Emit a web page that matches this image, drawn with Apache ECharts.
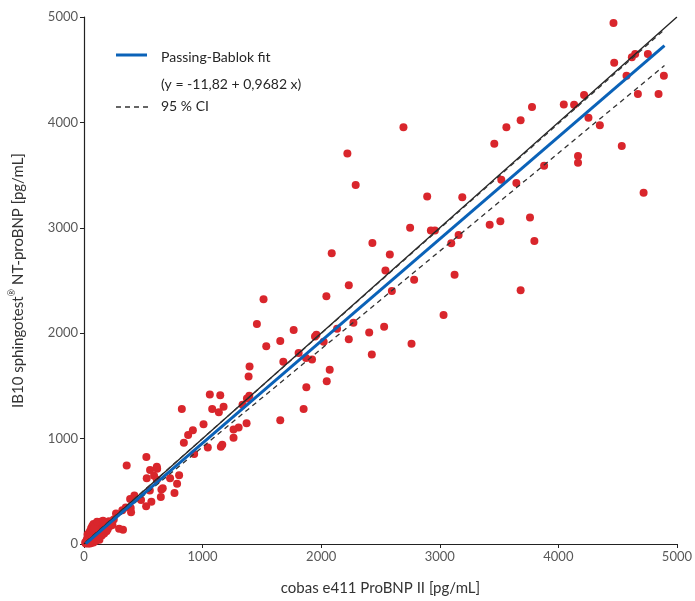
<!DOCTYPE html>
<html>
<head>
<meta charset="utf-8">
<script src="https://cdn.jsdelivr.net/npm/echarts@6/dist/echarts.min.js"></script>
<style>html,body{margin:0;padding:0;background:#fff}#c{width:695px;height:601px}</style>
</head>
<body>
<div id="c"></div>
<script>
// Axis ticks
const xTicks = [0, 1000, 2000, 3000, 4000, 5000];
const yTicks = [0, 1000, 2000, 3000, 4000, 5000];

// Measured points [cobas e411, sphingotest] in pg/mL
const highPoints = [[4465,4944],[4471,4567],[4620,4617],[4648,4649],[4755,4649],[4575,4442],[4890,4442],[4671,4269],[4845,4269],[4217,4259],[4046,4171],[4133,4168],[3778,4146],[3682,4021],[3562,3955],[4254,4043],[4350,3974],[3460,3798],[4535,3776],[4166,3682],[4166,3616],[3880,3588],[3519,3456],[3646,3425],[4719,3333],[3761,3098],[3798,2875],[3682,2408]];
const midPoints = [[2694,3955],[2221,3704],[2291,3406],[2894,3296],[3190,3290],[2750,3001],[2925,2975],[2959,2975],[3421,3029],[3511,3063],[3159,2932],[3097,2853],[2432,2856],[2089,2759],[2579,2746],[2542,2596],[2784,2508],[3125,2555],[2233,2455],[2596,2401],[2044,2351],[3032,2172],[1768,2031],[1655,1927],[1948,1968],[1960,1985],[2134,2043],[2272,2100],[2021,1918],[2233,1943],[2405,2006],[2531,2062],[2762,1899],[2427,1798],[1810,1811],[1514,2323],[1458,2088],[1537,1877],[1872,1764],[1923,1751],[1681,1730],[2072,1654],[1396,1683],[1388,1589],[2047,1544],[1875,1488],[1852,1281],[1655,1174]];
const lowPoints = [[1061,1419],[1149,1412],[1081,1281],[1177,1302],[1137,1249],[825,1281],[1394,1406],[1374,1381],[1337,1321],[1008,1136],[918,1080],[878,1033],[842,960],[1304,1105],[1261,1086],[1371,1146],[1261,1008],[1044,916],[1166,942],[1154,923],[929,854],[614,734],[526,826],[360,744],[557,703],[617,713],[529,624],[591,647],[614,609],[726,624],[802,653],[785,571],[664,530],[653,518],[763,483],[555,508],[481,417],[568,402],[648,445],[524,358],[425,459],[389,427],[394,342],[397,301],[352,346],[323,320],[270,289],[251,233],[329,135],[296,144]];
const clusterPoints = [[20,10],[30,25],[40,15],[45,40],[55,30],[60,55],[70,45],[75,70],[80,60],[90,85],[95,75],[100,100],[105,90],[110,120],[115,105],[120,135],[130,115],[135,150],[140,130],[150,165],[155,145],[160,180],[170,160],[175,195],[180,175],[190,205],[200,190],[210,215],[220,200],[230,210],[30,60],[50,80],[70,100],[90,130],[110,160],[130,180],[150,200],[170,210],[60,10],[80,30],[100,55],[120,80],[140,100],[160,120],[180,140],[200,160],[15,5],[35,5],[25,40],[45,20],[65,25],[85,45],[105,65],[125,95],[145,110],[165,140],[185,155],[210,175],[230,190],[60,150],[80,190],[100,180],[70,170],[120,200],[50,120],[40,100],[30,90],[90,160],[140,210],[110,210],[160,220],[120,60],[150,80],[170,100],[190,120],[200,140],[220,170],[240,180],[130,40],[100,30],[80,15],[50,5],[40,60],[20,30],[10,15]];

// Passing-Bablok fit and 95 % CI (intercept, slope) and drawn x-range
const fitCoef = [-11.82, 0.9682];
const ciUpperCoef = [5, 0.996];
const ciLowerCoef = [-8, 0.929];
const lineXRange = [15, 4895];
const identityLine = [[0,0],[5000,5000]];

const lineOf = (c) => lineXRange.map(x => [x, c[0] + c[1] * x]);

const chart = echarts.init(document.getElementById('c'), null, {renderer: 'canvas'});
const font = 'Lato, "Open Sans", sans-serif';
const allPoints = highPoints.concat(midPoints, lowPoints, clusterPoints);

chart.setOption({
  backgroundColor: '#fff',
  animation: false,
  grid: {left: 84, right: 16, top: 17, bottom: 53},
  xAxis: {
    type: 'value', min: 0, max: 5000, interval: 1000,
    name: 'cobas e411 ProBNP II [pg/mL]', nameLocation: 'middle', nameGap: 37,
    nameTextStyle: {fontFamily: font, fontSize: 15, color: '#333'},
    axisLine: {show: true, onZero: false, lineStyle: {color: '#222', width: 1.2}},
    axisTick: {show: true, inside: false, length: 4, lineStyle: {color: '#222'}},
    axisLabel: {fontFamily: font, fontSize: 13, color: '#595959', margin: 6, formatter: v => xTicks.includes(v) ? String(v) : ''},
    splitLine: {show: false}
  },
  yAxis: {
    type: 'value', min: 0, max: 5000, interval: 1000,
    name: '{n|IB10 sphingotest}{s|\u00AE}{n| NT-proBNP [pg/mL]}', nameLocation: 'middle', nameGap: 58, nameRotate: 90,
    nameTextStyle: {fontFamily: font, fontSize: 15, color: '#333',
      rich: {
        n: {fontFamily: font, fontSize: 15, color: '#333', lineHeight: 18, verticalAlign: 'bottom'},
        s: {fontFamily: font, fontSize: 9, color: '#333', lineHeight: 18, verticalAlign: 'top', padding: [0, 0, 0, 0]}
      }},
    axisLine: {show: true, onZero: false, lineStyle: {color: '#222', width: 1.2}},
    axisTick: {show: true, inside: false, length: 4, lineStyle: {color: '#222'}},
    axisLabel: {fontFamily: font, fontSize: 13, color: '#595959', margin: 6, formatter: v => yTicks.includes(v) ? String(v) : ''},
    splitLine: {show: false}
  },
  series: [
    {type: 'scatter', data: allPoints, symbol: 'circle', symbolSize: 8, itemStyle: {color: '#d9262c', opacity: 1}, z: 2},
    {type: 'line', data: identityLine, showSymbol: false, lineStyle: {color: '#222', width: 1.3}, z: 3},
    {type: 'line', data: lineOf(ciUpperCoef), showSymbol: false, lineStyle: {color: '#333', width: 1.3, type: [5, 4]}, z: 4},
    {type: 'line', data: lineOf(ciLowerCoef), showSymbol: false, lineStyle: {color: '#333', width: 1.3, type: [5, 4]}, z: 4},
    {type: 'line', data: lineOf(fitCoef), showSymbol: false, lineStyle: {color: '#0a62b8', width: 3}, z: 5}
  ],
  graphic: [
    {type: 'line', shape: {x1: 116, y1: 55, x2: 147, y2: 55}, style: {stroke: '#0a62b8', lineWidth: 3}},
    {type: 'text', left: 161, top: 50, style: {text: 'Passing-Bablok fit', font: '14px ' + font, fill: '#262626'}},
    {type: 'text', left: 161, top: 77, style: {text: '(y = -11,82 + 0,9682 x)', font: '14px ' + font, fill: '#262626'}},
    {type: 'line', shape: {x1: 116, y1: 107, x2: 148, y2: 107}, style: {stroke: '#333', lineWidth: 1.3, lineDash: [5, 4]}},
    {type: 'text', left: 161, top: 99, style: {text: '95 % CI', font: '14px ' + font, fill: '#262626'}}
  ]
});
</script>
</body>
</html>
